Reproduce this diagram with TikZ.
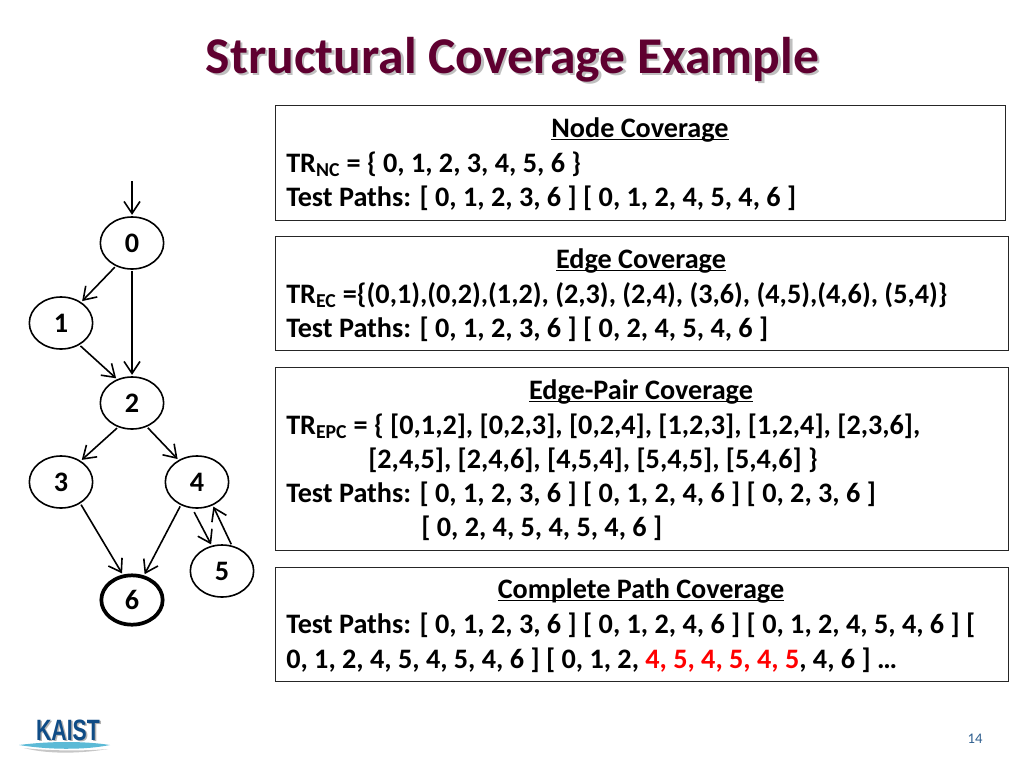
\documentclass[tikz,border=0pt]{standalone}
\usepackage{fontspec}
\setmainfont{Carlito}
\newfontfamily\logofont{Liberation Sans}
\usetikzlibrary{shapes.geometric,arrows.meta}
\definecolor{titlecol}{HTML}{5F0030}
\definecolor{kaistblue}{HTML}{0F4C86}
\definecolor{kaistsky}{HTML}{5CBAD6}
\definecolor{pagecol}{HTML}{2F5F8F}
\newcommand{\bodyfont}{\fontsize{21.15}{24}\selectfont\bfseries}
\newcommand{\headline}[1]{\underline{\smash{#1}}}
\tikzset{
  x=0.75pt,y=-0.75pt,
  vert/.style={draw=black,ellipse,line width=1.2pt,minimum width=47.5pt,minimum height=39pt,inner sep=0pt,font=\bodyfont,text=black},
  finalvert/.style={vert,line width=2.8pt,minimum width=46pt,minimum height=37pt},
  edge/.style={-{Straight Barb[length=9pt,width=12pt,line width=1.2pt]},line width=1.2pt,shorten <=1pt,shorten >=1pt},
  panel/.style={draw=black!85,line width=0.7pt,fill=white,inner sep=0pt,anchor=north west},
  line/.style={anchor=base west,inner sep=0pt,font=\bodyfont},
  head/.style={anchor=base,inner sep=0pt,font=\bodyfont},
  titletext/.style={anchor=base,inner sep=0pt,font=\fontsize{38.7}{42}\selectfont\bfseries},
}
\begin{document}
\begin{tikzpicture}
\useasboundingbox (0,0) rectangle (1024,768);
% title: the reference's soft shadow is the lighter copy beneath
\node[titletext,text=black!25] (titleshadow) at (515,75.5) {Structural Coverage Example};
\node[titletext,text=titlecol] (title) at (512.5,73.5) {Structural Coverage Example};
% panels
\node[panel,minimum width=547.5pt,minimum height=86pt] (p1) at (275,105) {};
\node[panel,minimum width=550pt,minimum height=85.5pt] (p2) at (275,236) {};
\node[panel,minimum width=550pt,minimum height=137pt] (p3) at (275,367) {};
\node[panel,minimum width=550pt,minimum height=85.5pt] (p4) at (275,567) {};
% panel 1
\node[head] (h1) at (640,137) {\headline{Node Coverage}};
\node[line] (a1) at (286,172) {TR\textsubscript{NC} = \{ 0, 1, 2, 3, 4, 5, 6 \}};
\node[line] (a2) at (286,206) {Test Paths: [ 0, 1, 2, 3, 6 ] [ 0, 1, 2, 4, 5, 4, 6 ]};
% panel 2
\node[head] (h2) at (641,268) {\headline{Edge Coverage}};
\node[line] (b1) at (286,303) {TR\textsubscript{EC} =\{(0,1),(0,2),(1,2), (2,3), (2,4), (3,6), (4,5),(4,6), (5,4)\}};
\node[line] (b2) at (286,337) {Test Paths: [ 0, 1, 2, 3, 6 ] [ 0, 2, 4, 5, 4, 6 ]};
% panel 3
\node[head] (h3) at (641,399) {\headline{Edge-Pair Coverage}};
\node[line] (c1) at (286,434) {TR\textsubscript{EPC} = \{ [0,1,2], [0,2,3], [0,2,4], [1,2,3], [1,2,4], [2,3,6],};
\node[line] (c2) at (368,468) {[2,4,5], [2,4,6], [4,5,4], [5,4,5], [5,4,6] \}};
\node[line] (c3) at (286,502) {Test Paths: [ 0, 1, 2, 3, 6 ] [ 0, 1, 2, 4, 6 ] [ 0, 2, 3, 6 ]};
\node[line] (c4) at (421,536) {[ 0, 2, 4, 5, 4, 5, 4, 6 ]};
% panel 4
\node[head] (h4) at (641,598) {\headline{Complete Path Coverage}};
\node[line] (d1) at (286,633) {Test Paths: [ 0, 1, 2, 3, 6 ] [ 0, 1, 2, 4, 6 ] [ 0, 1, 2, 4, 5, 4, 6 ] [};
\node[line] (d2) at (286,668) {0, 1, 2, 4, 5, 4, 5, 4, 6 ] [ 0, 1, 2, \textcolor{red}{4, 5, 4, 5, 4, 5}, 4, 6 ] …};
% graph
\coordinate (entry) at (132,181);
\node[vert] (n0) at (132,243) {0};
\node[vert] (n1) at (61,323) {1};
\node[vert] (n2) at (132,403) {2};
\node[vert] (n3) at (61,482) {3};
\node[vert] (n4) at (197,482) {4};
\node[vert] (n5) at (222,571) {5};
\node[finalvert] (n6) at (132,600) {6};
\draw[edge,shorten <=0pt] (entry) -- (n0.north);
\draw[edge] (n0.235) -- (n1.46);
\draw[edge] (n0.south) -- (n2.north);
\draw[edge] (n1.-50) -- (n2.122);
\draw[edge] (n2.240) -- (n3.47);
\draw[edge] (n2.-58) -- (n4.130);
\draw[edge] (n3.-48) -- (n6.110);
\draw[edge] (n4.235) -- (n6.64);
\draw[edge,shorten <=3pt] (n4.260) -- (n5.112);
\draw[edge] (n5.69) -- (n4.-56);
% logo
\fill[black!22] (24,748) .. controls (50,755) and (85,753) .. (108,749) .. controls (85,751) and (50,751) .. (24,748) -- cycle;
\fill[kaistsky] (19,745) .. controls (50,741) and (85,741) .. (110,745) .. controls (85,750) and (50,750) .. (19,745) -- cycle;
\node[inner sep=0pt,anchor=base,font=\fontsize{21}{24}\selectfont\bfseries\logofont,text=black!30,xscale=0.76,yscale=1.05] (logoshadow) at (69.5,741) {KAIST};
\node[inner sep=0pt,anchor=base,font=\fontsize{21}{24}\selectfont\bfseries\logofont,text=kaistblue,xscale=0.76,yscale=1.05] (logo) at (68,740) {KAIST};
% page number
\node[inner sep=0pt,anchor=base,font=\fontsize{11}{12}\selectfont,text=pagecol] (page) at (975,743) {14};
\end{tikzpicture}
\end{document}
